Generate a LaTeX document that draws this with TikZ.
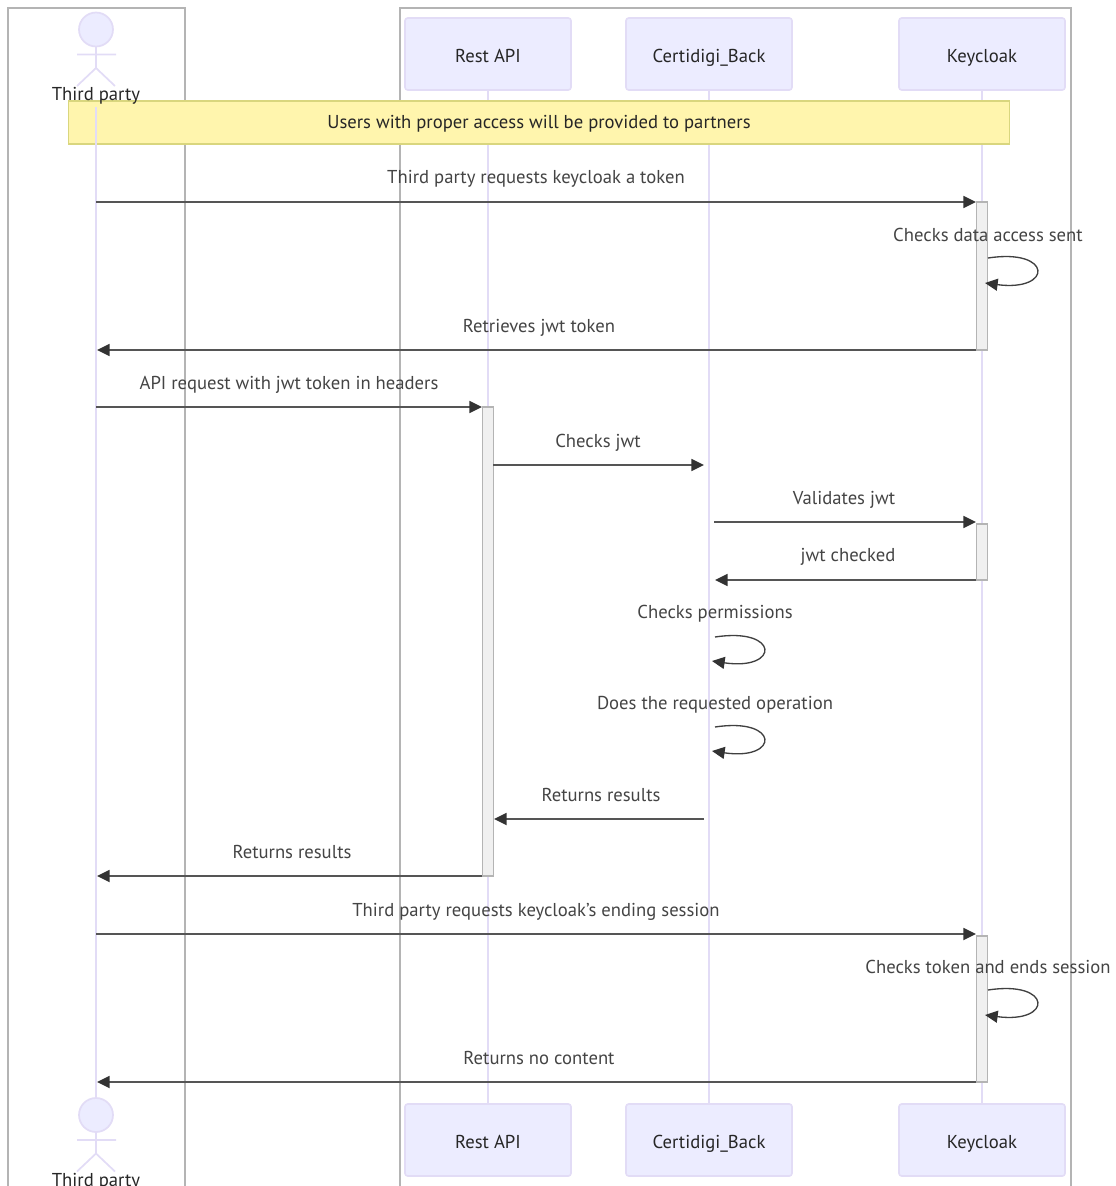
\documentclass[tikz,border=0pt]{standalone}
\usepackage{fontspec}
\setmainfont{PT Sans}
\usetikzlibrary{arrows.meta}
\definecolor{actorfill}{HTML}{ECECFF}
\definecolor{actorline}{HTML}{E2DCF6}
\definecolor{boxline}{HTML}{B4B4B4}
\definecolor{notefill}{HTML}{FFF5AD}
\definecolor{noteline}{HTML}{D9D67E}
\definecolor{msgline}{HTML}{555555}
\definecolor{msgtext}{HTML}{444444}
\newcommand{\labelfont}{\fontsize{14}{16}\selectfont}
\tikzset{
  actorbox/.style={draw=actorline,fill=actorfill,line width=1.2pt,rounded corners=2pt,minimum width=124.5pt,minimum height=54pt,inner sep=0pt,text height=13pt,text depth=1pt,text=black!85,font=\labelfont},
  actorname/.style={inner sep=0pt,anchor=base,text=black!85,font=\labelfont},
  lifeline/.style={draw=actorline,line width=1.3pt},
  groupbox/.style={draw=boxline,line width=1.3pt},
  notebox/.style={draw=noteline,fill=notefill,line width=1.2pt,minimum width=705.5pt,minimum height=32.5pt,inner sep=0pt,text height=12pt,text depth=3pt,text=black!85,font=\labelfont},
  activebox/.style={draw=boxline,fill=black!6,line width=1.2pt,minimum width=8.5pt,inner sep=0pt},
  msg/.style={draw=msgline,line width=1.3pt,-{Triangle[length=9.5pt,width=9pt,color=black!80]}},
  selfmsg/.style={draw=black!75,line width=1pt,-{Triangle[length=9.5pt,width=9pt,color=black!80]}},
  msglabel/.style={inner sep=0pt,anchor=base,text=msgtext,font=\labelfont},
}
\begin{document}
\begin{tikzpicture}[x=0.75pt,y=0.75pt,yscale=-1,xscale=1]
    \useasboundingbox (0,0) rectangle (1115,1186);
    \clip (0,0) rectangle (1115,1186);

    % group boxes
    \draw [groupbox] (8,1200) -- (8,8) -- (185,8) -- (185,1200);
    \draw [groupbox] (400,1200) -- (400,8) -- (1071,8) -- (1071,1200);

    % top and bottom actors
    \node [actorbox] (apiTop) at (488,54) {Rest API};
    \node [actorbox] (backTop) at (709,54) {Certidigi\_Back};
    \node [actorbox] (keyTop) at (982,54) {Keycloak};
    \node [actorbox] (apiBot) at (488,1140) {Rest API};
    \node [actorbox] (backBot) at (709,1140) {Certidigi\_Back};
    \node [actorbox] (keyBot) at (982,1140) {Keycloak};
    \coordinate (partyTop) at (96,107);
    \coordinate (partyBot) at (96,1099);

    % lifelines
    \draw [lifeline] (apiTop) -- (apiBot);
    \draw [lifeline] (backTop) -- (backBot);
    \draw [lifeline] (keyTop) -- (keyBot);

    % stick figures
    \foreach \dy in {0,1085.5}{
      \draw [lifeline,fill=actorfill] (96,29.5+\dy) circle [radius=17];
      \draw [lifeline] (96,46.5+\dy) -- (96,68+\dy) (77,54.5+\dy) -- (116,54.5+\dy) (96,68+\dy) -- (77,86+\dy) (96,68+\dy) -- (115,86+\dy);
    }

    % note
    \node [notebox] (accessNote) at (539,122.5) {Users with proper access will be provided to partners};
    \draw [lifeline] (partyTop) -- (partyBot);
    \node [actorname] (partyNameTop) at (96,100) {Third party};
    \node [actorname] (partyNameBot) at (96,1186.5) {Third party};

    % activations
    \node [activebox,minimum height=111pt] (keyOne) at (982,276) {};
    \node [activebox,minimum height=352pt] (apiOne) at (488,641.5) {};
    \node [activebox,minimum height=42pt] (keyTwo) at (982,552) {};
    \node [activebox,minimum height=109.5pt] (keyThree) at (982,1009) {};

    % message ends
    \coordinate (a1) at (96,202); \coordinate (b1) at (976,202);
    \coordinate (a2) at (976,350); \coordinate (b2) at (97,350);
    \coordinate (a3) at (96,407); \coordinate (b3) at (482,407);
    \coordinate (a4) at (493,465); \coordinate (b4) at (704,465);
    \coordinate (a5) at (714,522); \coordinate (b5) at (976,522);
    \coordinate (a6) at (976,580); \coordinate (b6) at (715,580);
    \coordinate (a7) at (704,819); \coordinate (b7) at (494,819);
    \coordinate (a8) at (482,876); \coordinate (b8) at (97,876);
    \coordinate (a9) at (96,934); \coordinate (b9) at (976,934);
    \coordinate (a10) at (976,1082); \coordinate (b10) at (97,1082);

    % messages
    \foreach \n in {1,...,10}
      \draw [msg] (a\n) -- (b\n);

    % self messages
    \draw [selfmsg] (988,258) .. controls (1053,248) and (1053,292) .. (985,283);
    \draw [selfmsg] (988,990) .. controls (1053,980) and (1053,1024) .. (985,1015);
    \draw [selfmsg] (715,637) .. controls (780,627) and (780,671) .. (712,661);
    \draw [selfmsg] (715,727) .. controls (780,717) and (780,761) .. (712,751);

    % labels
    \node [msglabel] (t1) at (536,183.5) {Third party requests keycloak a token};
    \node [msglabel] (t2) at (988,241.5) {Checks data access sent};
    \node [msglabel] (t3) at (539,332.5) {Retrieves jwt token};
    \node [msglabel] (t4) at (289,389.5) {API request with jwt token in headers};
    \node [msglabel] (t5) at (598,447) {Checks jwt};
    \node [msglabel] (t6) at (844,504) {Validates jwt};
    \node [msglabel] (t7) at (848,561.5) {jwt checked};
    \node [msglabel] (t8) at (715,618.5) {Checks permissions};
    \node [msglabel] (t9) at (715,709.5) {Does the requested operation};
    \node [msglabel] (t10) at (601,801.5) {Returns results};
    \node [msglabel] (t11) at (292,858.5) {Returns results};
    \node [msglabel] (t12) at (536,916) {Third party requests keycloak's ending session};
    \node [msglabel] (t13) at (988,973) {Checks token and ends session};
    \node [msglabel] (t14) at (539,1064) {Returns no content};
\end{tikzpicture}
\end{document}
